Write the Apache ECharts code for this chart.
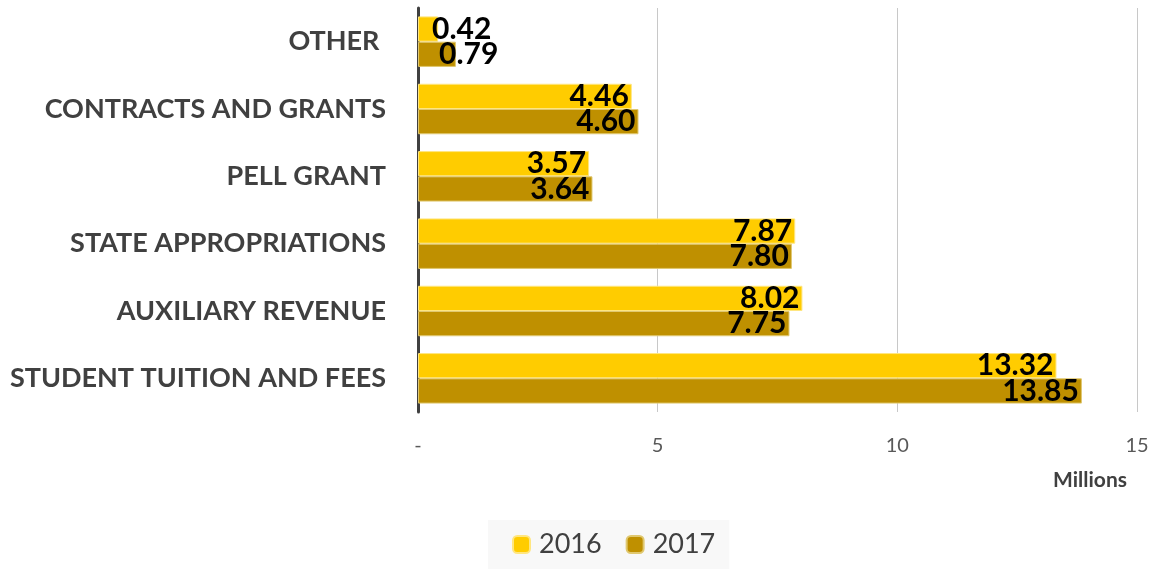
<!DOCTYPE html>
<html>
<head>
    <meta charset="utf-8">
    <title>Revenue by source</title>
    <script src="https://cdn.jsdelivr.net/npm/echarts@6/dist/echarts.min.js"></script>
</head>
<body style="margin:0">
<div id="main" style="width: 1152px;height:569px;"></div>
<script type="text/javascript">
    // categories, top to bottom
    var categories = ['OTHER ', 'CONTRACTS AND GRANTS', 'PELL GRANT', 'STATE APPROPRIATIONS', 'AUXILIARY REVENUE', 'STUDENT TUITION AND FEES'];
    var years = ['2016', '2017'];
    var values2016 = [0.42, 4.46, 3.57, 7.87, 8.02, 13.32];
    var values2017 = [0.79, 4.60, 3.64, 7.80, 7.75, 13.85];
    var xTicks = [0, 5, 10, 15];

    var myChart = echarts.init(document.getElementById('main'));
    var font = 'Lato, "Open Sans", sans-serif';

    // small bars: label sits outside / shifted like Excel does
    function makeData(vals) {
        return vals.map(function (v) {
            if (v < 1) {
                return { value: v, label: { position: 'insideLeft', distance: v < 0.5 ? 14 : 21 } };
            }
            return v;
        });
    }

    var labelStyle = {
        show: true,
        position: 'insideRight',
        distance: 3,
        color: '#000',
        fontFamily: font,
        fontWeight: 'bold',
        fontSize: 30,
        formatter: function (p) { return p.value.toFixed(2); }
    };

    option = {
        animation: false,
        grid: { left: 418, right: 15, top: 8, bottom: 157 },
        legend: {
            bottom: 0,
            left: 488,
            itemWidth: 17,
            itemHeight: 17,
            itemGap: 24,
            padding: [11, 14, 11, 24],
            backgroundColor: '#f8f8f8',
            textStyle: { fontFamily: font, fontSize: 27, color: '#404040', padding: [0, 0, 0, 4] },
            data: years
        },
        xAxis: {
            type: 'value',
            min: xTicks[0],
            max: xTicks[xTicks.length - 1],
            interval: 5,
            name: 'Millions',
            nameLocation: 'end',
            nameGap: 0,
            nameTextStyle: {
                fontFamily: font, fontWeight: 'bold', fontSize: 21, color: '#404040',
                align: 'right', verticalAlign: 'top', padding: [58, 10, 0, 0]
            },
            axisLine: { show: false },
            axisTick: { show: false },
            axisLabel: {
                margin: 24,
                fontFamily: font, fontSize: 20, color: '#595959',
                formatter: function (v) { return v === 0 ? '-' : String(v); }
            },
            splitLine: { lineStyle: { color: '#c8c8c8', width: 1 } }
        },
        yAxis: {
            type: 'category',
            inverse: true,
            data: categories,
            axisLine: { lineStyle: { color: '#404040', width: 3 } },
            axisTick: { show: false },
            axisLabel: {
                margin: 32,
                fontFamily: font, fontWeight: 'bold', fontSize: 27, color: '#404040'
            }
        },
        series: [
            {
                name: years[0],
                type: 'bar',
                data: makeData(values2016),
                barGap: '0%',
                barCategoryGap: '25%',
                itemStyle: { color: '#FFCC00', borderColor: '#ffe680', borderWidth: 1 },
                label: labelStyle
            },
            {
                name: years[1],
                type: 'bar',
                data: makeData(values2017),
                barGap: '0%',
                barCategoryGap: '25%',
                itemStyle: { color: '#BF9000', borderColor: '#e0c870', borderWidth: 1 },
                label: labelStyle
            }
        ]
    };
    myChart.setOption(option);
</script>
</body>
</html>
